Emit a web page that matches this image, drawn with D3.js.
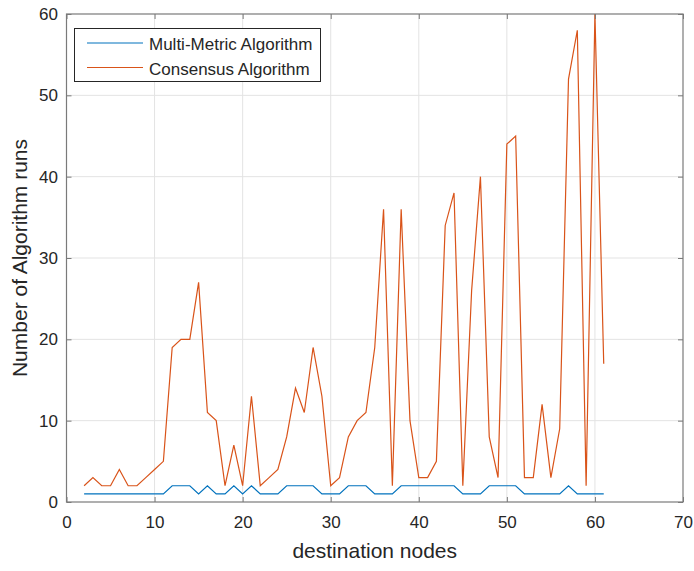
<!DOCTYPE html>
<html>
<head>
<meta charset="utf-8">
<script src="https://cdn.jsdelivr.net/npm/d3@7"></script>
<style>
  body { margin: 0; background: #fff; }
  svg { font-family: "Liberation Sans", Arial, sans-serif; }
</style>
</head>
<body>
<div id="chart"></div>
<script>
// destination nodes 2..61
const nodes = d3.range(2, 62);
const multiMetric = [1, 1, 1, 1, 1, 1, 1, 1, 1, 1, 2, 2, 2, 1, 2, 1, 1, 2, 1, 2,
  1, 1, 1, 2, 2, 2, 2, 1, 1, 1, 2, 2, 2, 1, 1, 1, 2, 2, 2, 2,
  2, 2, 2, 1, 1, 1, 2, 2, 2, 2, 1, 1, 1, 1, 1, 2, 1, 1, 1, 1];
const consensus = [2, 3, 2, 2, 4, 2, 2, 3, 4, 5, 19, 20, 20, 27, 11, 10, 2, 7, 2, 13,
  2, 3, 4, 8, 14, 11, 19, 13, 2, 3, 8, 10, 11, 19, 36, 2, 36, 10, 3, 3,
  5, 34, 38, 2, 26, 40, 8, 3, 44, 45, 3, 3, 12, 3, 9, 52, 58, 2, 60, 17];
const seriesNames = ["Multi-Metric Algorithm", "Consensus Algorithm"];
const seriesColors = ["#0072BD", "#D95319"];
const xTicks = [0, 10, 20, 30, 40, 50, 60, 70];
const yTicks = [0, 10, 20, 30, 40, 50, 60];

const width = 694, height = 571;
const margin = { left: 66.5, right: 11, top: 14, bottom: 69 };

const svg = d3.select("#chart").append("svg")
  .attr("width", width)
  .attr("height", height);

const x = d3.scaleLinear().domain([0, 70]).range([margin.left, width - margin.right]);
const y = d3.scaleLinear().domain([0, 60]).range([height - margin.bottom, margin.top]);

// grid
svg.append("g").selectAll("line").data(xTicks.slice(1, -1)).enter().append("line")
  .attr("x1", d => x(d)).attr("x2", d => x(d))
  .attr("y1", y(0)).attr("y2", y(60))
  .attr("stroke", "#e3e3e3").attr("stroke-width", 1);
svg.append("g").selectAll("line").data(yTicks.slice(1, -1)).enter().append("line")
  .attr("y1", d => y(d)).attr("y2", d => y(d))
  .attr("x1", x(0)).attr("x2", x(70))
  .attr("stroke", "#e3e3e3").attr("stroke-width", 1);

// lines
const series = [multiMetric, consensus];
const line = d3.line().x((d, i) => x(nodes[i])).y(d => y(d));
series.forEach(function (vals, k) {
  svg.append("path")
    .datum(vals)
    .attr("d", line)
    .attr("fill", "none")
    .attr("stroke", seriesColors[k])
    .attr("stroke-width", 1.2);
});

// axes (box with inward ticks)
const axisColor = "#7a7a7a";
function styleAxis(g, showText) {
  g.select(".domain").remove();
  g.selectAll(".tick line").attr("stroke", axisColor);
  g.selectAll(".tick text")
    .attr("fill", "#262626")
    .attr("font-size", "17px")
    .style("display", showText ? null : "none");
}
svg.append("g")
  .attr("transform", "translate(0," + y(0) + ")")
  .call(d3.axisBottom(x).tickValues(xTicks).tickSize(-5).tickPadding(14))
  .call(g => styleAxis(g, true));
svg.append("g")
  .attr("transform", "translate(0," + y(60) + ")")
  .call(d3.axisTop(x).tickValues(xTicks).tickSize(-5))
  .call(g => styleAxis(g, false));
svg.append("g")
  .attr("transform", "translate(" + x(0) + ",0)")
  .call(d3.axisLeft(y).tickValues(yTicks).tickSize(-5).tickPadding(8.5))
  .call(g => styleAxis(g, true));
svg.append("g")
  .attr("transform", "translate(" + x(70) + ",0)")
  .call(d3.axisRight(y).tickValues(yTicks).tickSize(-5))
  .call(g => styleAxis(g, false));

svg.append("rect")
  .attr("x", x(0)).attr("y", y(60))
  .attr("width", x(70) - x(0)).attr("height", y(0) - y(60))
  .attr("fill", "none").attr("stroke", axisColor).attr("stroke-width", 1.2);

// axis labels
svg.append("text")
  .attr("x", (x(0) + x(70)) / 2).attr("y", 558)
  .attr("text-anchor", "middle")
  .attr("font-size", "21px").attr("fill", "#262626")
  .text("destination nodes");
svg.append("text")
  .attr("transform", "translate(27," + (y(30)) + ") rotate(-90)")
  .attr("text-anchor", "middle")
  .attr("font-size", "21px").attr("fill", "#262626")
  .text("Number of Algorithm runs");

// legend
const legend = svg.append("g");
legend.append("rect")
  .attr("x", 74.5).attr("y", 28.5).attr("width", 246).attr("height", 53)
  .attr("fill", "#fff").attr("stroke", "#262626").attr("stroke-width", 1);
seriesNames.forEach(function (name, k) {
  const ly = 43 + k * 24.5;
  legend.append("line")
    .attr("x1", 87).attr("x2", 143).attr("y1", ly).attr("y2", ly)
    .attr("stroke", seriesColors[k]).attr("stroke-width", 1.2);
  legend.append("text")
    .attr("x", 149).attr("y", ly + 7)
    .attr("font-size", "17px").attr("fill", "#262626")
    .text(name);
});
</script>
</body>
</html>
